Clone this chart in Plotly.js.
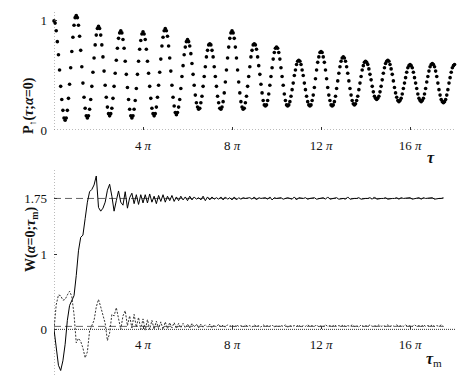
<!DOCTYPE html>
<html>
<head>
<meta charset="utf-8">
<script src="https://cdn.plot.ly/plotly-3.0.1.min.js"></script>
<style>
  html, body { margin: 0; padding: 0; background: #fff; }
  #chart { width: 463px; height: 379px; }
</style>
</head>
<body>
<div id="chart"></div>
<script>
// P_up(tau; alpha=0), one dot every pi/20
const pUp = [
    1.00, 0.98, 0.91, 0.81, 0.69, 0.55, 0.40, 0.28, 0.18, 0.11,
    0.09, 0.11, 0.18, 0.29, 0.42, 0.57, 0.72, 0.85, 0.96, 1.03,
    1.05, 1.03, 0.96, 0.86, 0.73, 0.58, 0.43, 0.30, 0.20, 0.13,
    0.11, 0.13, 0.19, 0.28, 0.40, 0.53, 0.66, 0.78, 0.87, 0.93,
    0.95, 0.93, 0.87, 0.78, 0.67, 0.54, 0.41, 0.30, 0.21, 0.15,
    0.13, 0.15, 0.20, 0.29, 0.40, 0.52, 0.64, 0.75, 0.84, 0.89,
    0.91, 0.89, 0.83, 0.75, 0.63, 0.51, 0.39, 0.28, 0.19, 0.13,
    0.11, 0.13, 0.19, 0.27, 0.38, 0.51, 0.63, 0.74, 0.82, 0.88,
    0.90, 0.88, 0.83, 0.74, 0.63, 0.52, 0.40, 0.29, 0.20, 0.15,
    0.13, 0.15, 0.21, 0.30, 0.41, 0.53, 0.65, 0.77, 0.85, 0.91,
    0.93, 0.91, 0.86, 0.77, 0.66, 0.54, 0.41, 0.30, 0.22, 0.16,
    0.14, 0.16, 0.21, 0.28, 0.38, 0.49, 0.59, 0.69, 0.76, 0.81,
    0.83, 0.81, 0.77, 0.70, 0.61, 0.51, 0.41, 0.32, 0.25, 0.21,
    0.19, 0.20, 0.25, 0.31, 0.40, 0.49, 0.58, 0.67, 0.73, 0.78,
    0.79, 0.78, 0.73, 0.67, 0.58, 0.49, 0.40, 0.31, 0.25, 0.20,
    0.19, 0.21, 0.26, 0.34, 0.44, 0.55, 0.66, 0.76, 0.84, 0.89,
    0.91, 0.89, 0.84, 0.76, 0.66, 0.55, 0.44, 0.34, 0.26, 0.21,
    0.19, 0.20, 0.25, 0.31, 0.40, 0.49, 0.58, 0.67, 0.73, 0.78,
    0.79, 0.78, 0.74, 0.67, 0.59, 0.51, 0.42, 0.34, 0.27, 0.23,
    0.22, 0.23, 0.27, 0.33, 0.41, 0.49, 0.57, 0.65, 0.71, 0.75,
    0.76, 0.75, 0.71, 0.65, 0.57, 0.49, 0.41, 0.33, 0.27, 0.23,
    0.22, 0.23, 0.26, 0.31, 0.37, 0.43, 0.50, 0.55, 0.60, 0.63,
    0.64, 0.63, 0.60, 0.55, 0.50, 0.43, 0.37, 0.31, 0.26, 0.23,
    0.22, 0.23, 0.27, 0.32, 0.39, 0.47, 0.55, 0.62, 0.67, 0.71,
    0.72, 0.71, 0.67, 0.62, 0.55, 0.47, 0.39, 0.32, 0.27, 0.23,
    0.22, 0.23, 0.26, 0.31, 0.38, 0.45, 0.52, 0.58, 0.63, 0.66,
    0.67, 0.66, 0.63, 0.58, 0.52, 0.45, 0.38, 0.32, 0.27, 0.24,
    0.23, 0.24, 0.27, 0.31, 0.37, 0.43, 0.49, 0.55, 0.59, 0.62,
    0.63, 0.62, 0.60, 0.56, 0.51, 0.46, 0.40, 0.35, 0.31, 0.29,
    0.28, 0.29, 0.31, 0.35, 0.40, 0.46, 0.52, 0.57, 0.61, 0.63,
    0.64, 0.63, 0.60, 0.56, 0.51, 0.45, 0.39, 0.34, 0.30, 0.27,
    0.26, 0.27, 0.29, 0.33, 0.38, 0.43, 0.48, 0.53, 0.57, 0.59,
    0.60, 0.59, 0.57, 0.53, 0.48, 0.43, 0.38, 0.33, 0.29, 0.27,
    0.26, 0.27, 0.29, 0.33, 0.38, 0.44, 0.49, 0.54, 0.58, 0.60,
    0.61, 0.60, 0.58, 0.54, 0.49, 0.43, 0.37, 0.32, 0.28, 0.26,
    0.25, 0.26, 0.28, 0.32, 0.37, 0.43, 0.48, 0.53, 0.57, 0.59,
    0.60
];
const pStep = Math.PI / 20;

// W(alpha=0; tau_m), one sample every pi/10 up to 17.5 pi
const wSolid = [
    0.00, -0.25, -0.48, -0.55, -0.42, -0.20, 0.12, 0.32, 0.39, 0.45,
    0.72, 1.05, 1.23, 1.26, 1.48, 1.70, 1.84, 1.87, 1.93, 2.05,
    1.63, 1.58, 1.62, 1.70, 1.86, 1.94, 1.78, 1.58, 1.72, 1.85,
    1.70, 1.66, 1.84, 1.62, 1.76, 1.82, 1.68, 1.80, 1.67, 1.80,
    1.69,
    1.80, 1.69, 1.81, 1.70, 1.78, 1.68, 1.79, 1.71, 1.80, 1.70,
    1.78, 1.72, 1.79, 1.71, 1.77, 1.72, 1.78, 1.73, 1.77, 1.72,
    1.78, 1.73, 1.77, 1.74, 1.76, 1.73, 1.78, 1.72, 1.77, 1.73,
    1.77, 1.74, 1.76, 1.74, 1.77, 1.73, 1.77, 1.74, 1.76, 1.73,
    1.77, 1.73, 1.76, 1.74, 1.76, 1.75, 1.75, 1.76, 1.74, 1.77,
    1.73, 1.76, 1.75, 1.75, 1.76, 1.74, 1.77, 1.73, 1.76, 1.75,
    1.75, 1.76, 1.74, 1.75, 1.76, 1.75, 1.74, 1.77, 1.73, 1.76,
    1.75, 1.75, 1.76, 1.74, 1.75, 1.75, 1.76, 1.74, 1.75, 1.75,
    1.76, 1.74, 1.77, 1.74, 1.75, 1.75, 1.76, 1.74, 1.75, 1.75,
    1.74, 1.77, 1.74, 1.75, 1.75, 1.75, 1.76, 1.74, 1.75, 1.75,
    1.75, 1.76, 1.74, 1.77, 1.74, 1.75, 1.75, 1.75, 1.76, 1.74,
    1.75, 1.75, 1.75, 1.76, 1.74, 1.76, 1.75, 1.75, 1.75, 1.76,
    1.74, 1.75, 1.75, 1.76, 1.74, 1.76, 1.75, 1.75, 1.75, 1.76,
    1.74, 1.75, 1.75, 1.75, 1.76
];
const wDotted = [
    0.00, 0.33, 0.46, 0.45, 0.39, 0.40, 0.46, 0.51, 0.44, 0.20,
    -0.18, -0.12, -0.16, -0.25, -0.38, -0.30, -0.02, 0.05, 0.12, 0.30,
    0.40, 0.30, 0.17, 0.08, -0.15, -0.05, 0.20, 0.18, 0.29, 0.12,
    0.00, 0.18, 0.25, 0.05, 0.18, 0.02, 0.20, 0.03, 0.16, 0.00,
    0.14,
    -0.01, 0.13, 0.00, 0.12, 0.00, 0.11, 0.01, 0.10, 0.00, 0.10,
    0.01, 0.09, 0.02, 0.09, 0.01, 0.08, 0.02, 0.08, 0.02, 0.07,
    0.02, 0.08, 0.03, 0.07, 0.02, 0.07, 0.03, 0.06, 0.03, 0.07,
    0.02, 0.06, 0.03, 0.07, 0.03, 0.06, 0.03, 0.06, 0.04, 0.06,
    0.03, 0.06, 0.04, 0.05, 0.03, 0.06, 0.04, 0.05, 0.03, 0.06,
    0.04, 0.05, 0.03, 0.06, 0.04, 0.05, 0.04, 0.06, 0.03, 0.05,
    0.04, 0.05, 0.04, 0.06, 0.03, 0.05, 0.04, 0.05, 0.04, 0.06,
    0.03, 0.05, 0.04, 0.06, 0.04, 0.05, 0.04, 0.06, 0.03, 0.05,
    0.04, 0.06, 0.04, 0.05, 0.04, 0.06, 0.04, 0.05, 0.04, 0.06,
    0.04, 0.05, 0.04, 0.06, 0.04, 0.05, 0.03, 0.06, 0.04, 0.05,
    0.04, 0.06, 0.04, 0.05, 0.04, 0.06, 0.04, 0.05, 0.04, 0.06,
    0.04, 0.05, 0.04, 0.06, 0.04, 0.05, 0.04, 0.06, 0.04, 0.05,
    0.04, 0.06, 0.04, 0.05, 0.04, 0.06, 0.04, 0.05, 0.04, 0.06,
    0.04, 0.05, 0.04, 0.06, 0.04
];
const wStep = Math.PI / 10;

// dashed guide levels in the lower panel
const wLevels = [1.75, 0.04];

// tick positions in units of pi
const tauTicks = [4, 8, 12, 16];
const tauTickText = ['4 <i>π</i>', '8 <i>π</i>', '12 <i>π</i>', '16 <i>π</i>'];

const serif = 'Liberation Serif, Times New Roman, serif';
const xMax = 18.02 * Math.PI;
const topRange = [0, 1.10];
const botRange = [-0.61, 2.13];
const botDomain = [0, 0.5616];
const zeroPos = botDomain[1] * (0 - botRange[0]) / (botRange[1] - botRange[0]);

const traces = [
    {
        x: pUp.map((v, i) => i * pStep),
        y: pUp,
        xaxis: 'x', yaxis: 'y',
        type: 'scatter', mode: 'markers',
        marker: { size: 3.6, color: '#000' },
        cliponaxis: false,
        hoverinfo: 'skip'
    },
    {
        x: wSolid.map((v, i) => i * wStep),
        y: wSolid,
        xaxis: 'x2', yaxis: 'y2',
        type: 'scatter', mode: 'lines',
        line: { color: '#000', width: 1 },
        hoverinfo: 'skip'
    },
    {
        x: wDotted.map((v, i) => i * wStep),
        y: wDotted,
        xaxis: 'x2', yaxis: 'y2',
        type: 'scatter', mode: 'lines',
        line: { color: '#333', width: 1, dash: '2px,1.5px' },
        hoverinfo: 'skip'
    }
];

const dottedAxis = { color: '#777', width: 1, dash: '1px,2px' };
const wEnd = (wSolid.length - 1) * wStep;

const shapes = [
    // top panel axes
    { type: 'line', xref: 'x', yref: 'y domain', x0: 0, x1: 0, y0: 0, y1: 1, line: dottedAxis, layer: 'below' },
    { type: 'line', xref: 'x domain', yref: 'y', x0: 0, x1: 1, y0: 0, y1: 0, line: dottedAxis, layer: 'below' },
    // bottom panel axes
    { type: 'line', xref: 'x2', yref: 'y2 domain', x0: 0, x1: 0, y0: 0, y1: 1, line: dottedAxis, layer: 'below' },
    { type: 'line', xref: 'x2 domain', yref: 'y2', x0: 0, x1: 1, y0: 0, y1: 0, line: { color: '#333', width: 1, dash: '1px,1px' }, layer: 'below' }
];
wLevels.forEach(lv => {
    shapes.push({
        type: 'line', xref: 'x2', yref: 'y2', x0: 0, x1: wEnd, y0: lv, y1: lv,
        line: { color: '#666', width: 1, dash: '7px,4px' }, layer: 'below'
    });
});

const xCommon = {
    range: [0, xMax],
    showgrid: false, zeroline: false, showline: false,
    tickvals: tauTicks.map(t => t * Math.PI),
    ticktext: tauTickText,
    ticks: 'inside', ticklen: 3, tickcolor: '#333', tickwidth: 1,
    ticklabelstandoff: 6,
    tickfont: { family: serif, size: 13, color: '#111' }
};
const yCommon = {
    showgrid: false, zeroline: false, showline: false,
    ticks: 'inside', ticklen: 3, tickcolor: '#333', tickwidth: 1,
    ticklabelstandoff: 6,
    tickfont: { family: serif, size: 13, color: '#111' }
};

const layout = {
    width: 463, height: 379,
    margin: { l: 54, r: 8, t: 10, b: 4 },
    paper_bgcolor: '#fff', plot_bgcolor: '#fff',
    showlegend: false,
    xaxis: Object.assign({}, xCommon, { anchor: 'y' }),
    yaxis: Object.assign({}, yCommon, { domain: [0.6712, 1], range: topRange, tickvals: [0, 1], ticktext: ['0', '1'] }),
    xaxis2: Object.assign({}, xCommon, { anchor: 'free', position: zeroPos }),
    yaxis2: Object.assign({}, yCommon, { domain: botDomain, range: botRange, tickvals: [0, 1, 1.75], ticktext: ['0', '1', '1.75'] }),
    shapes: shapes,
    annotations: [
        {
            xref: 'paper', yref: 'paper', x: -0.087, y: 0.822, textangle: -90,
            text: '<b>P<sub>↑</sub>(<i>τ</i>;<i>α</i>=0)</b>', showarrow: false,
            font: { family: serif, size: 14, color: '#111' }
        },
        {
            xref: 'paper', yref: 'paper', x: -0.082, y: 0.277, textangle: -90,
            text: '<b>W(<i>α</i>=0;<i>τ</i><sub>m</sub>)</b>', showarrow: false,
            font: { family: serif, size: 14, color: '#111' }
        },
        {
            xref: 'paper', yref: 'paper', x: 0.955, y: 0.597,
            text: '<b><i>τ</i></b>', showarrow: false,
            font: { family: serif, size: 16, color: '#111' }
        },
        {
            xref: 'paper', yref: 'paper', x: 0.972, y: 0.012,
            text: '<b><i>τ</i></b><sub>m</sub>', showarrow: false,
            font: { family: serif, size: 16, color: '#111' }
        }
    ]
};

Plotly.newPlot('chart', traces, layout, { displayModeBar: false, staticPlot: true });
</script>
</body>
</html>
